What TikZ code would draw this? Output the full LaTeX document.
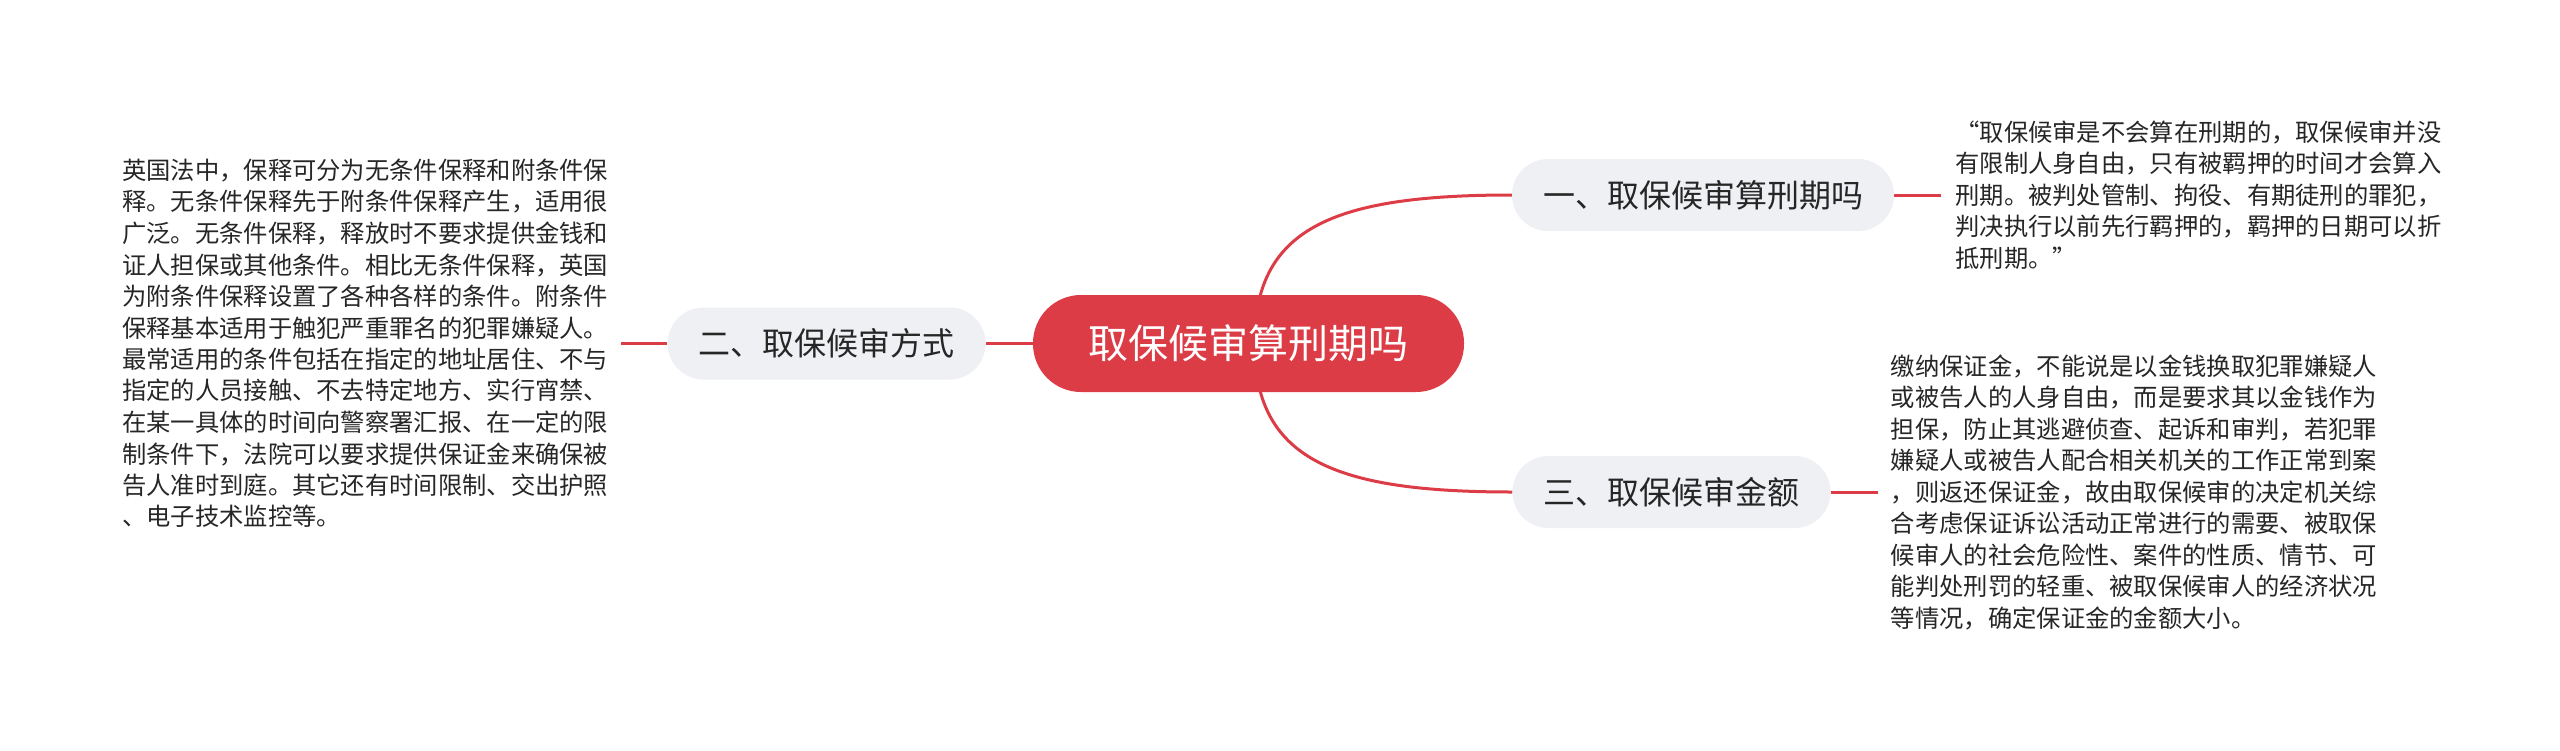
\documentclass[tikz,border=0pt]{standalone}
\usepackage{fontspec}
\setmainfont{Noto Sans CJK SC}
\usepackage{xcolor}
\usepackage{tikz}
\usetikzlibrary{positioning,backgrounds}

\definecolor{rootred}{HTML}{DC3C46}
\definecolor{topicgray}{HTML}{EEF0F3}
\definecolor{inkgray}{HTML}{262626}

\begin{document}
\begin{tikzpicture}[
      x=1pt, y=-1pt,
      root/.style={
        fill=rootred,
        text=white,
        rounded corners=48pt,
        minimum width=431pt,
        minimum height=97pt,
        inner xsep=0pt,
        font=\fontsize{40}{44}\selectfont
      },
      topic/.style={
        fill=topicgray,
        text=inkgray,
        rounded corners=36pt,
        minimum height=72pt,
        inner xsep=31pt,
        font=\fontsize{32}{36}\selectfont
      },
      note/.style={align=left, inner sep=0pt, text=inkgray,
        font=\fontsize{24.3}{31.5}\selectfont},
      branch/.style={draw=rootred, line width=3pt}
    ]
    \useasboundingbox (0,0) rectangle (2560,750);

    \node[root] (root) at (1248.5,343.5) {取保候审算刑期吗};
    \node[topic] (q1) at (1703,195) {一、取保候审算刑期吗};
    \node[topic, left=47pt of root] (q2) {二、取保候审方式};
    \node[topic] (q3) at (1671.5,492) {三、取保候审金额};

    \coordinate[right=47pt of q1] (s1);
    \coordinate[left=46pt of q2] (s2);
    \coordinate[right=47pt of q3] (s3);

    \node[note, right=14pt of s1] (t1) {“取保候审是不会算在刑期的，取保候审并没\\
      有限制人身自由，只有被羁押的时间才会算入\\
      刑期。被判处管制、拘役、有期徒刑的罪犯，\\
      判决执行以前先行羁押的，羁押的日期可以折\\
      抵刑期。”};
    \node[note, text width=486pt, left=13pt of s2] (t2) {英国法中，保释可分为无条件保释和附条件保\\
      释。无条件保释先于附条件保释产生，适用很\\
      广泛。无条件保释，释放时不要求提供金钱和\\
      证人担保或其他条件。相比无条件保释，英国\\
      为附条件保释设置了各种各样的条件。附条件\\
      保释基本适用于触犯严重罪名的犯罪嫌疑人。\\
      最常适用的条件包括在指定的地址居住、不与\\
      指定的人员接触、不去特定地方、实行宵禁、\\
      在某一具体的时间向警察署汇报、在一定的限\\
      制条件下，法院可以要求提供保证金来确保被\\
      告人准时到庭。其它还有时间限制、交出护照\\
      、电子技术监控等。};
    \node[note, right=13pt of s3] (t3) {缴纳保证金，不能说是以金钱换取犯罪嫌疑人\\
      或被告人的人身自由，而是要求其以金钱作为\\
      担保，防止其逃避侦查、起诉和审判，若犯罪\\
      嫌疑人或被告人配合相关机关的工作正常到案\\
      ，则返还保证金，故由取保候审的决定机关综\\
      合考虑保证诉讼活动正常进行的需要、被取保\\
      候审人的社会危险性、案件的性质、情节、可\\
      能判处刑罚的轻重、被取保候审人的经济状况\\
      等情况，确定保证金的金额大小。};

    \begin{scope}[on background layer]
      \fill[white] (0,0) rectangle (2560,750);
      \draw[branch] ([xshift=6pt]root.center) .. controls +(0,-115) and +(-180,0) .. (q1.west);
      \draw[branch] ([xshift=6pt]root.center) .. controls +(0,115) and +(-180,0) .. (q3.west);
      \draw[branch] (root) -- (q2);
      \draw[branch] (q1) -- (s1);
      \draw[branch] (q2) -- (s2);
      \draw[branch] (q3) -- (s3);
    \end{scope}
  \end{tikzpicture}
\end{document}
